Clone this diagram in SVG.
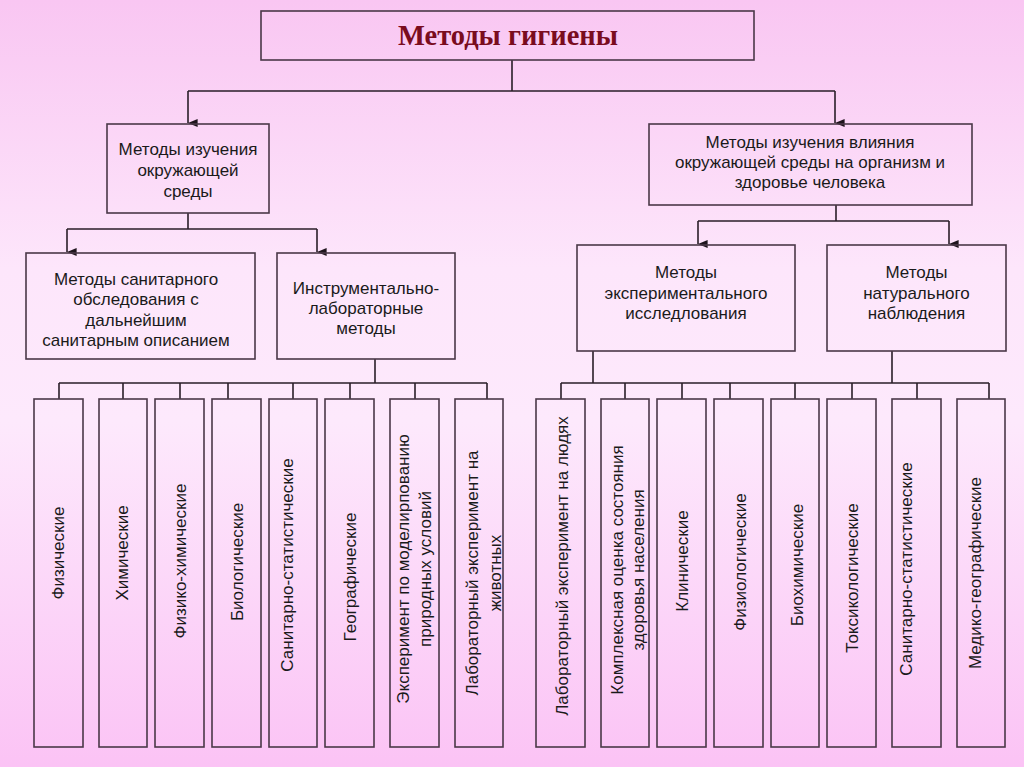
<svg xmlns="http://www.w3.org/2000/svg" width="1024" height="767" viewBox="0 0 1024 767">
  <defs>
    <linearGradient id="bg" x1="0" y1="0" x2="0" y2="1">
      <stop offset="0" stop-color="#f9c6f2"/>
      <stop offset="0.35" stop-color="#fde6fb"/>
      <stop offset="0.55" stop-color="#fde9fc"/>
      <stop offset="1" stop-color="#fbc3f5"/>
    </linearGradient>
    <marker id="arr" viewBox="0 0 10 12" refX="5" refY="12" markerWidth="8" markerHeight="11" markerUnits="userSpaceOnUse" orient="auto-start-reverse">
      <path d="M0,0 L10,0 L5,12 Z" fill="#1e141c"/>
    </marker>
    <style>
      .box { fill: none; stroke: #4a3848; stroke-width: 1.6; }
      .con { fill: none; stroke: #2a1e28; stroke-width: 1.6; }
      .t { font-family: "Liberation Sans", Arial, sans-serif; font-size: 17px; fill: #1a1a1a; text-anchor: middle; }
      .title { font-family: "Liberation Serif", "Times New Roman", serif; font-size: 28.5px; font-weight: bold; fill: #7a0c1e; text-anchor: middle; }
    </style>
  </defs>
  <rect x="0" y="0" width="1024" height="767" fill="url(#bg)"/>

  <g id="connectors">
    <path class="con" d="M512,60 V91 M188,91 H835"/>
    <path class="con" d="M188,91 V123" marker-end="url(#arr)"/>
    <path class="con" d="M835,91 V123" marker-end="url(#arr)"/>
    <path class="con" d="M188,213 V229 M67,229 H317"/>
    <path class="con" d="M67,229 V252" marker-end="url(#arr)"/>
    <path class="con" d="M317,229 V252" marker-end="url(#arr)"/>
    <path class="con" d="M836,205 V221 M698,221 H949"/>
    <path class="con" d="M698,221 V244" marker-end="url(#arr)"/>
    <path class="con" d="M949,221 V244" marker-end="url(#arr)"/>
    <path class="con" d="M375,359 V383 M59,383 H487 M59,383 V399 M123,383 V399 M180,383 V399 M228,383 V399 M293,383 V399 M350,383 V399 M415,383 V399 M487,383 V399"/>
    <path class="con" d="M593,351 V383 M892,351 V383 M561,383 H989 M561,383 V399 M625,383 V399 M682,383 V399 M730,383 V399 M795,383 V399 M852,383 V399 M917,383 V399 M989,383 V399"/>
  </g>

  <g id="n-root">
    <rect class="box" x="261" y="11" width="493" height="49"/>
    <text class="title" x="508" y="45">Методы гигиены</text>
  </g>

  <g id="n-env">
    <rect class="box" x="107" y="124" width="162" height="89"/>
    <text class="t" x="188" y="155">Методы изучения</text>
    <text class="t" x="188" y="176">окружающей</text>
    <text class="t" x="188" y="197">среды</text>
  </g>

  <g id="n-influence">
    <rect class="box" x="649" y="124" width="323" height="81"/>
    <text class="t" x="810" y="148">Методы изучения влияния</text>
    <text class="t" x="810" y="168">окружающей среды на организм и</text>
    <text class="t" x="810" y="188">здоровье человека</text>
  </g>

  <g id="n-sanitary">
    <rect class="box" x="26" y="253" width="229" height="106"/>
    <text class="t" x="136" y="284.5">Методы санитарного</text>
    <text class="t" x="136" y="305">обследования с</text>
    <text class="t" x="136" y="325.5">дальнейшим</text>
    <text class="t" x="136" y="346">санитарным описанием</text>
  </g>

  <g id="n-instrumental">
    <rect class="box" x="277" y="253" width="178" height="106"/>
    <text class="t" x="366" y="294">Инструментально-</text>
    <text class="t" x="366" y="314">лабораторные</text>
    <text class="t" x="366" y="334">методы</text>
  </g>

  <g id="n-experimental">
    <rect class="box" x="577" y="245" width="218" height="106"/>
    <text class="t" x="686" y="278">Методы</text>
    <text class="t" x="686" y="299">экспериментального</text>
    <text class="t" x="686" y="319">исследлования</text>
  </g>

  <g id="n-natural">
    <rect class="box" x="827" y="245" width="179" height="106"/>
    <text class="t" x="916.5" y="278">Методы</text>
    <text class="t" x="916.5" y="299">натурального</text>
    <text class="t" x="916.5" y="319">наблюдения</text>
  </g>

  <g id="leaf-l1"><rect class="box" x="34" y="399" width="49" height="348"/>
    <text class="t" transform="translate(64,553) rotate(-90)">Физические</text></g>
  <g id="leaf-l2"><rect class="box" x="99" y="399" width="48" height="348"/>
    <text class="t" transform="translate(128,553) rotate(-90)">Химические</text></g>
  <g id="leaf-l3"><rect class="box" x="155" y="399" width="49" height="348"/>
    <text class="t" transform="translate(186,561) rotate(-90)">Физико-химические</text></g>
  <g id="leaf-l4"><rect class="box" x="212" y="399" width="49" height="348"/>
    <text class="t" transform="translate(243,562) rotate(-90)">Биологические</text></g>
  <g id="leaf-l5"><rect class="box" x="269" y="399" width="48" height="348"/>
    <text class="t" transform="translate(293,565) rotate(-90)">Санитарно-статистические</text></g>
  <g id="leaf-l6"><rect class="box" x="325" y="399" width="49" height="348"/>
    <text class="t" transform="translate(356,577) rotate(-90)">Географические</text></g>
  <g id="leaf-l7"><rect class="box" x="390" y="399" width="49" height="348"/>
    <text class="t" transform="translate(409,569) rotate(-90)">Эксперимент по моделирпованию</text>
    <text class="t" transform="translate(431,569) rotate(-90)">природных условий</text></g>
  <g id="leaf-l8"><rect class="box" x="455" y="399" width="48" height="348"/>
    <text class="t" transform="translate(478,573) rotate(-90)">Лабораторный эксперимент на</text>
    <text class="t" transform="translate(501,573) rotate(-90)">животных</text></g>

  <g id="leaf-r1"><rect class="box" x="536" y="399" width="49" height="348"/>
    <text class="t" transform="translate(568,566) rotate(-90)">Лабораторный эксперимент на людях</text></g>
  <g id="leaf-r2"><rect class="box" x="601" y="399" width="48" height="348"/>
    <text class="t" transform="translate(623,570) rotate(-90)">Комплексная оценка состояния</text>
    <text class="t" transform="translate(644,570) rotate(-90)">здоровья населения</text></g>
  <g id="leaf-r3"><rect class="box" x="657" y="399" width="49" height="348"/>
    <text class="t" transform="translate(688,561) rotate(-90)">Клинические</text></g>
  <g id="leaf-r4"><rect class="box" x="714" y="399" width="49" height="348"/>
    <text class="t" transform="translate(746,562) rotate(-90)">Физиологические</text></g>
  <g id="leaf-r5"><rect class="box" x="771" y="399" width="48" height="348"/>
    <text class="t" transform="translate(803,565) rotate(-90)">Биохимические</text></g>
  <g id="leaf-r6"><rect class="box" x="827" y="399" width="49" height="348"/>
    <text class="t" transform="translate(858,578) rotate(-90)">Токсикологические</text></g>
  <g id="leaf-r7"><rect class="box" x="892" y="399" width="49" height="348"/>
    <text class="t" transform="translate(912,569) rotate(-90)">Санитарно-статистические</text></g>
  <g id="leaf-r8"><rect class="box" x="957" y="399" width="48" height="348"/>
    <text class="t" transform="translate(981,573) rotate(-90)">Медико-географические</text></g>
</svg>
